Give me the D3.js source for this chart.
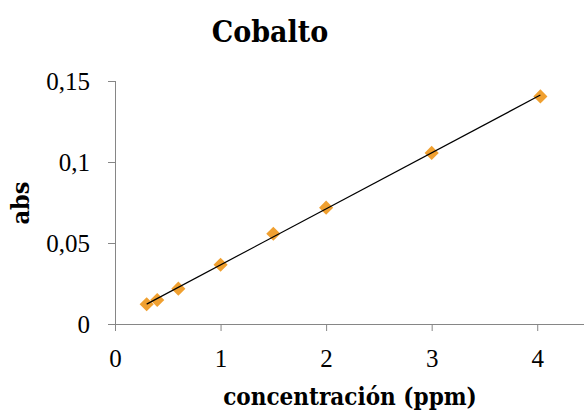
<!DOCTYPE html>
<html>
<head>
<meta charset="utf-8">
<script src="https://cdn.jsdelivr.net/npm/d3@7"></script>
<style>
  body { margin: 0; background: #fff; }
  svg text { font-family: "Liberation Serif", "DejaVu Serif", serif; fill: #000; }
  svg text.bold { font-family: "DejaVu Serif Condensed", "DejaVu Serif", serif; font-stretch: condensed; font-weight: bold; }
  .axis path, .axis line { stroke: #868686; }
</style>
</head>
<body>
<script>
// concentración (ppm) vs abs
var conc = [0.3, 0.4, 0.6, 1.0, 1.5, 2.0, 3.0, 4.03];
var abs  = [0.0122, 0.0148, 0.0218, 0.0366, 0.0557, 0.0718, 0.1056, 0.1405];
var xTicks = [0, 1, 2, 3, 4];
var yTicks = [0, 0.05, 0.1, 0.15];
var yTickLabels = ["0", "0,05", "0,1", "0,15"];

var width = 584, height = 414;

var svg = d3.select("body").append("svg")
    .attr("width", width)
    .attr("height", height);

var x = d3.scaleLinear().domain([0, 4.5]).range([115, 590]);
var y = d3.scaleLinear().domain([0, 0.15]).range([324, 81]);

// title
svg.append("text")
    .attr("class", "bold")
    .attr("x", 270)
    .attr("y", 42)
    .style("text-anchor", "middle")
    .style("font-size", "30px")
    .text("Cobalto");

// axes
var xAxis = d3.axisBottom(x).tickValues(xTicks).tickSize(7).tickPadding(18)
    .tickFormat(function (d) { return d; });
var yAxis = d3.axisLeft(y).tickValues(yTicks).tickSize(7).tickPadding(18)
    .tickFormat(function (d, i) { return yTickLabels[i]; });

var gX = svg.append("g")
    .attr("class", "axis")
    .attr("transform", "translate(0," + y(0) + ")")
    .call(xAxis);
gX.select(".domain").attr("d", "M" + x(0) + ",0.5H" + width);

var gY = svg.append("g")
    .attr("class", "axis")
    .attr("transform", "translate(" + x(0) + ",0)")
    .call(yAxis);
gY.select(".domain").attr("d", "M0.5," + y(0) + "V" + y(0.15));

svg.selectAll(".axis text")
    .style("font-size", "25px")
    .style("font-family", "'Liberation Serif', serif");

// axis titles
svg.append("text")
    .attr("class", "bold")
    .attr("x", 350)
    .attr("y", 405)
    .style("text-anchor", "middle")
    .style("font-size", "24px")
    .text("concentración (ppm)");

svg.append("text")
    .attr("class", "bold")
    .attr("transform", "translate(29," + 203 + ") rotate(-90)")
    .style("text-anchor", "middle")
    .style("font-size", "25px")
    .text("abs");

// linear trendline over the data range
var mx = d3.mean(conc), my = d3.mean(abs);
var sxy = d3.sum(conc, function (d, i) { return (d - mx) * (abs[i] - my); });
var sxx = d3.sum(conc, function (d) { return (d - mx) * (d - mx); });
var slope = sxy / sxx, icept = my - slope * mx;
var ends = d3.extent(conc);

// markers
var diamond = d3.symbol().type(d3.symbolSquare).size(100);
svg.selectAll(".pt")
    .data(conc)
    .enter().append("path")
    .attr("class", "pt")
    .attr("d", diamond)
    .attr("transform", function (d, i) { return "translate(" + x(d) + "," + y(abs[i]) + ") rotate(45)"; })
    .style("fill", "#F0A030");

// trendline drawn over the markers
svg.append("line")
    .attr("x1", x(ends[0])).attr("y1", y(icept + slope * ends[0]))
    .attr("x2", x(ends[1])).attr("y2", y(icept + slope * ends[1]))
    .style("stroke", "#000")
    .style("stroke-width", 1.2);
</script>
</body>
</html>
